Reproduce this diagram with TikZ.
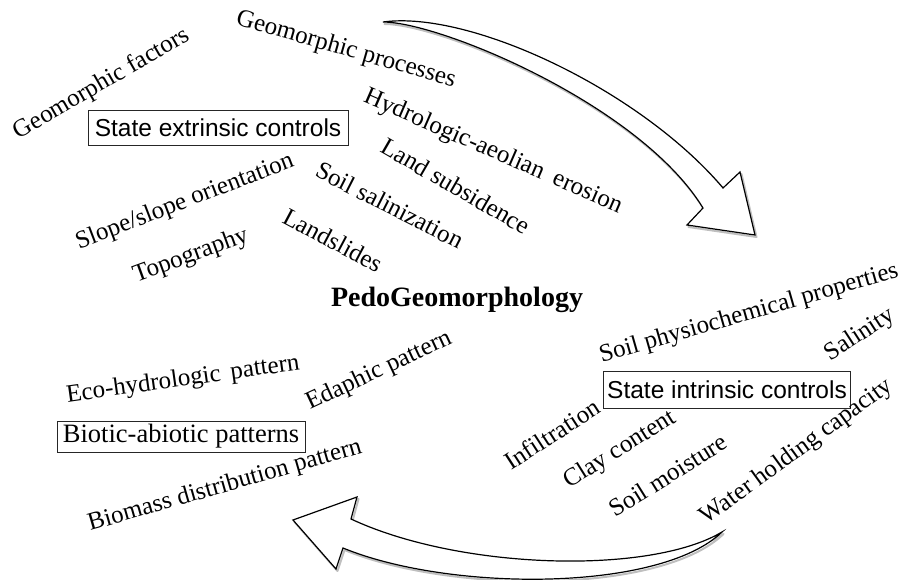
\documentclass[tikz,border=0pt]{standalone}
\usepackage{fontspec}
\setmainfont{Liberation Serif}
\setsansfont{Liberation Sans}
\newcommand\myTopArrowPath{(383,22) .. controls (470,10) and (640,90) .. (723,188) -- (740,172) -- (755,235) -- (687,225) -- (703,208) .. controls (640,105) and (440,22) .. (383,22) -- cycle}
\newcommand\myBotArrowPath{(722,532) .. controls (650,575) and (460,570) .. (351,519) -- (357,497) -- (293,520) -- (336,569) -- (343,548) .. controls (450,592) and (660,592) .. (722,532) -- cycle}
\begin{document}
\begin{tikzpicture}[x=1pt,y=-1pt,
  lbl/.style={font=\fontsize{25}{30}\selectfont, inner sep=0pt},
  boxlbl/.style={draw=black!85, line width=1pt, inner sep=0pt, align=center},
  arr/.style={draw=black, line width=1.2pt, fill=white, line join=miter},
  arrshadow/.style={draw=black!25, line width=2pt, line join=round}
]
\useasboundingbox (0,0) rectangle (906,580);
% arrows
\begin{scope}[shift={(1.5,2)}]
\draw[arrshadow] \myTopArrowPath;
\draw[arrshadow] \myBotArrowPath;
\end{scope}
\draw[arr] \myTopArrowPath;
\draw[arr] \myBotArrowPath;
% boxes
\node[boxlbl, minimum width=260, minimum height=35, font=\sffamily\fontsize{24.5}{29}\selectfont] (sec) at (218,128) {State extrinsic controls};
\node[boxlbl, minimum width=247, minimum height=36, font=\sffamily\fontsize{24.5}{29}\selectfont] (sic) at (727,390) {State intrinsic controls};
\node[boxlbl, minimum width=248, minimum height=31, font=\fontsize{26.5}{30}\selectfont] (bap) at (181,436.5) {Biotic-abiotic patterns};
% labels
\node[lbl, rotate=30] (gf) at (102,84) {Geomorphic factors};
\node[lbl, rotate=-16] (gp) at (346,50) {Geomorphic processes};
\node[lbl, rotate=-23.5] (hae) at (493,152) {Hydrologic-aeolian\hspace{0.45em}erosion};
\node[lbl, rotate=-30] (ls) at (456,186) {Land subsidence};
\node[lbl, rotate=-27] (ss) at (390,205) {Soil salinization};
\node[lbl, rotate=21] (so) at (185,202) {Slope/slope orientation};
\node[lbl, rotate=20] (topo) at (191,256) {Topography};
\node[lbl, rotate=-28] (land) at (333,240) {Landslides};
\node[font=\bfseries\fontsize{28}{32}\selectfont, inner sep=0pt] (pg) at (457,300) {PedoGeomorphology};
\node[lbl, rotate=16] (spp) at (749,314) {Soil physiochemical properties};
\node[lbl, rotate=33] (sal) at (860,335) {Salinity};
\node[lbl, rotate=33] (inf) at (552,434) {Infiltration};
\node[lbl, rotate=32] (cc) at (620,450) {Clay content};
\node[lbl, rotate=32] (sm) at (668,475) {Soil moisture};
\node[lbl, rotate=36] (whc) at (797,452) {Water holding capacity};
\node[lbl, rotate=8] (eco) at (183,380) {Eco-hydrologic\hspace{0.4em}pattern};
\node[lbl, rotate=25] (eda) at (379,371) {Edaphic pattern};
\node[lbl, rotate=16] (bio) at (225,486) {Biomass distribution pattern};
\end{tikzpicture}
\end{document}
